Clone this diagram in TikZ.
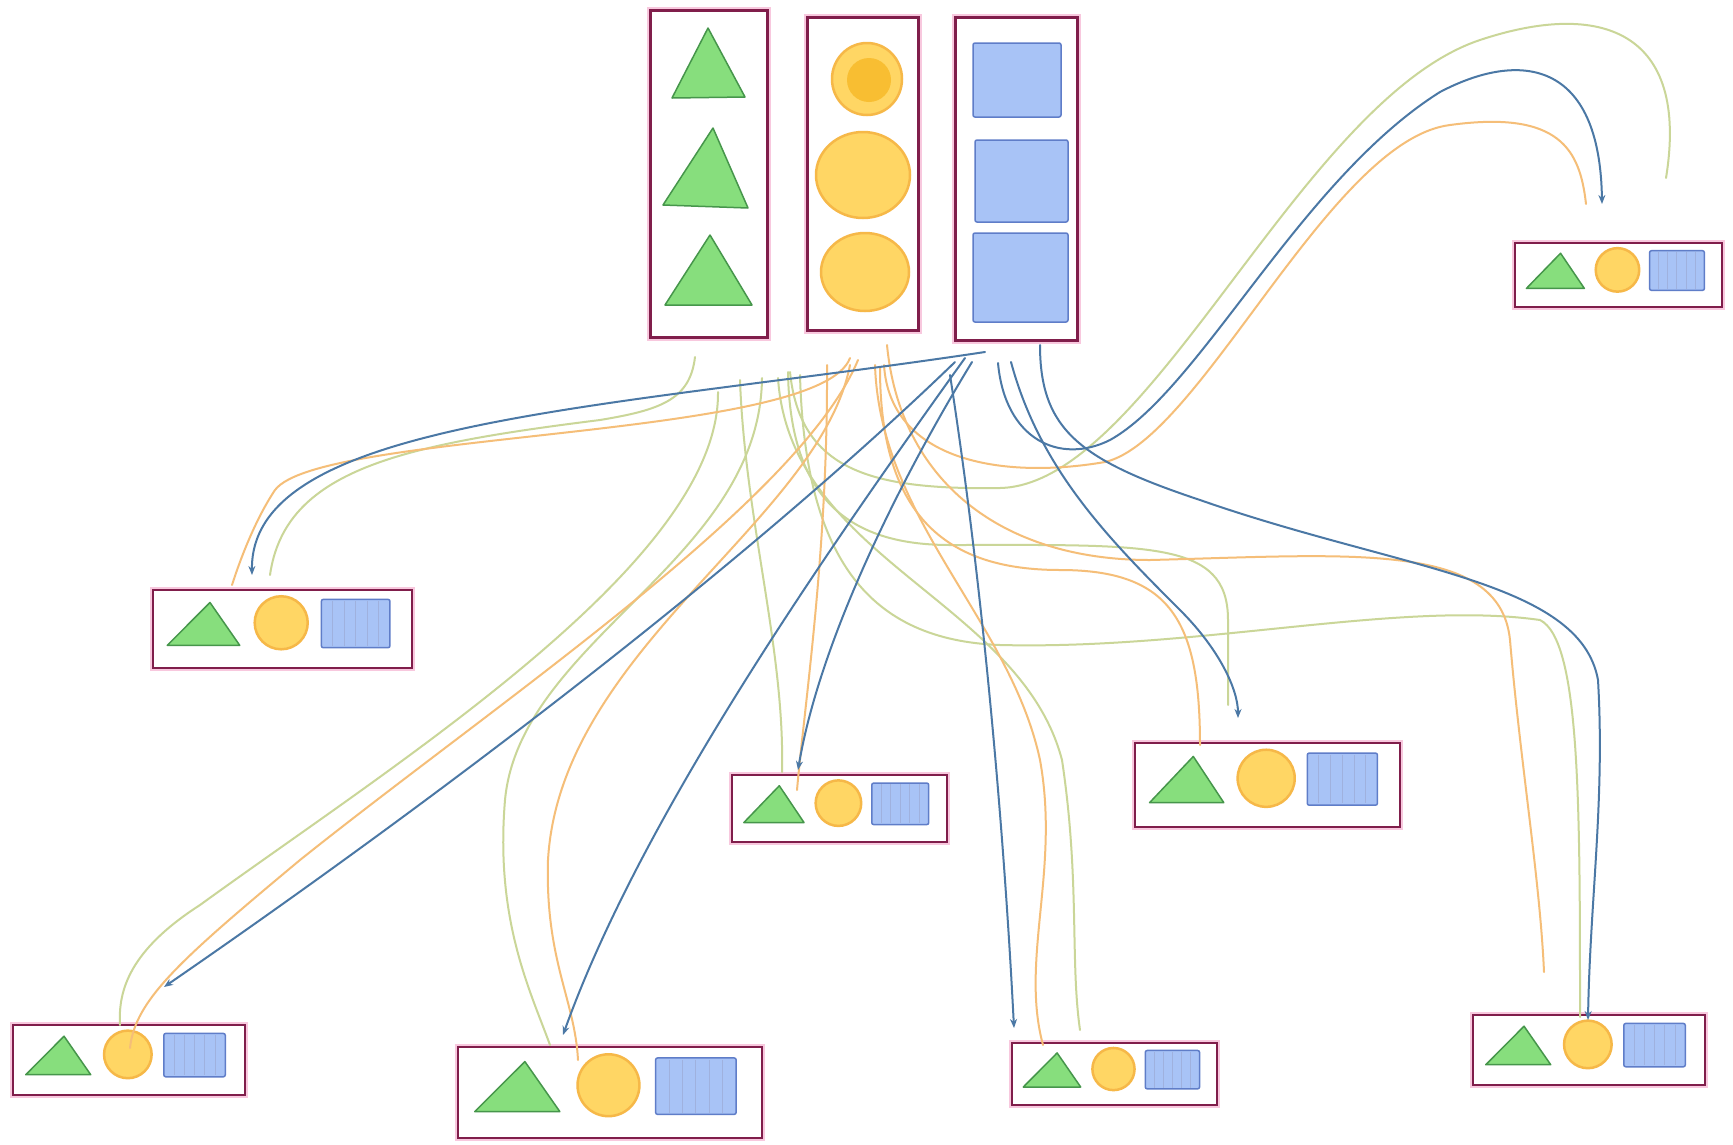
\documentclass[tikz,border=0pt]{standalone}
\usetikzlibrary{arrows.meta,calc}
\definecolor{frame}{RGB}{128,30,75}
\definecolor{halo}{RGB}{248,200,222}
\definecolor{trifill}{RGB}{135,222,125}
\definecolor{triedge}{RGB}{70,150,75}
\definecolor{circfill}{RGB}{255,214,100}
\definecolor{circedge}{RGB}{246,184,72}
\definecolor{circdeep}{RGB}{248,190,50}
\definecolor{sqfill}{RGB}{168,195,246}
\definecolor{sqedge}{RGB}{95,125,200}
\definecolor{bl}{RGB}{75,120,165}
\definecolor{orl}{RGB}{245,190,120}
\definecolor{grl}{RGB}{202,214,152}
\tikzset{
  frm/.style={draw=frame, line width=2.3pt, preaction={draw=halo, line width=5.5pt}, fill=white, inner sep=0pt, outer sep=0pt},
  bigfrm/.style={draw=frame, line width=3pt, preaction={draw=halo, line width=7pt}, fill=white, inner sep=0pt, outer sep=0pt},
  trist/.style={fill=trifill, draw=triedge, line width=1.5pt, line join=round},
  circst/.style={fill=circfill, draw=circedge, line width=2.5pt},
  sqst/.style={fill=sqfill, draw=sqedge, line width=1.5pt, rounded corners=2pt},
  stripe/.style={draw=sqedge!60, line width=1pt},
  bw/.style={draw=bl, line width=2pt, line cap=round, -{Stealth[length=9pt,width=7pt]}},
  ow/.style={draw=orl, line width=2pt, line cap=round},
  gw/.style={draw=grl, line width=2pt, line cap=round},
}
\newcommand{\minibox}[5]{%
  \pgfmathsetmacro\mbw{#4-#2}%
  \pgfmathsetmacro\mbh{#5-#3}%
  \node[frm, minimum width=\mbw pt, minimum height=\mbh pt] (#1) at ({(#2+#4)/2},{(#3+#5)/2}) {};
  \filldraw[trist] ({#2+0.055*\mbw},{#3+0.71*\mbh}) -- ({#2+0.22*\mbw},{#3+0.16*\mbh}) -- ({#2+0.335*\mbw},{#3+0.71*\mbh}) -- cycle;
  \filldraw[circst] ({#2+0.495*\mbw},{#3+0.42*\mbh}) circle[radius={0.34*\mbh}];
  \filldraw[sqst] ({#2+0.65*\mbw},{#3+0.12*\mbh}) rectangle ({#2+0.915*\mbw},{#3+0.74*\mbh});
  \foreach \k in {1,...,5}{
    \draw[stripe] ({#2+0.65*\mbw+\k*0.265*\mbw/6},{#3+0.14*\mbh}) -- ({#2+0.65*\mbw+\k*0.265*\mbw/6},{#3+0.72*\mbh});
  }
}
\begin{document}
\begin{tikzpicture}[x=1pt,y=-1pt]
\path[use as bounding box, fill=white] (0,0) rectangle (1733,1144);

% big columns
\node[bigfrm, minimum width=117pt, minimum height=327pt] (G) at (708.5,173.5) {};
\node[bigfrm, minimum width=111pt, minimum height=313pt] (Y) at (862.5,173.5) {};
\node[bigfrm, minimum width=122pt, minimum height=323pt] (B) at (1016,178.5) {};

\filldraw[trist] (672,98) -- (708,28) -- (745,97) -- cycle;
\filldraw[trist] (663,205) -- (713,128) -- (748,208) -- cycle;
\filldraw[trist] (665,305) -- (710,235) -- (752,305) -- cycle;

\filldraw[circst] (867,79) ellipse[x radius=35, y radius=36];
\fill[circdeep] (869,80) ellipse[x radius=22, y radius=22];
\filldraw[circst] (863,175) ellipse[x radius=47, y radius=43];
\filldraw[circst] (865,272) ellipse[x radius=44, y radius=39];

\filldraw[sqst] (973,43) rectangle (1061,117);
\filldraw[sqst] (975,140) rectangle (1068,222);
\filldraw[sqst] (973,233) rectangle (1068,322);

% small boxes
\minibox{TR}{1515}{243}{1722}{307}
\minibox{LM}{153}{590}{412}{668}
\minibox{CM}{732}{775}{947}{842}
\minibox{RM}{1135}{743}{1400}{827}
\minibox{BL}{13}{1025}{245}{1095}
\minibox{BCL}{458}{1047}{762}{1138}
\minibox{BCR}{1012}{1043}{1217}{1105}
\minibox{BR}{1473}{1015}{1705}{1085}

% connector end points
\coordinate (g1s) at (790,372); \coordinate (g1e) at (1666,178);
\coordinate (g2s) at (695,357); \coordinate (g2e) at (270,575);
\coordinate (g3s) at (740,380); \coordinate (g3e) at (782,772);
\coordinate (g4s) at (718,392); \coordinate (g4e) at (120,1025);
\coordinate (g5s) at (762,378); \coordinate (g5e) at (550,1045);
\coordinate (g6s) at (778,378); \coordinate (g6e) at (1080,1030);
\coordinate (g7s) at (788,372); \coordinate (g7e) at (1228,705);
\coordinate (g8s) at (800,375); \coordinate (g8e) at (1580,1017);

\coordinate (o1s) at (884,365); \coordinate (o1e) at (1586,204);
\coordinate (o2s) at (850,358); \coordinate (o2e) at (232,585);
\coordinate (o3s) at (827,365); \coordinate (o3e) at (797,790);
\coordinate (o4s) at (858,360); \coordinate (o4e) at (130,1048);
\coordinate (o5s) at (850,365); \coordinate (o5e) at (578,1060);
\coordinate (o6s) at (875,365); \coordinate (o6e) at (1043,1045);
\coordinate (o7s) at (880,368); \coordinate (o7e) at (1200,745);
\coordinate (o8s) at (887,345); \coordinate (o8e) at (1544,972);

\coordinate (b1s) at (998,363); \coordinate (b1e) at (1602,204);
\coordinate (b2s) at (985,352); \coordinate (b2e) at (252,575);
\coordinate (b3s) at (972,362); \coordinate (b3e) at (798,770);
\coordinate (b4s) at (955,362); \coordinate (b4e) at (164,987);
\coordinate (b5s) at (965,358); \coordinate (b5e) at (563,1035);
\coordinate (b6s) at (950,375); \coordinate (b6e) at (1014,1028);
\coordinate (b7s) at (1011,362); \coordinate (b7e) at (1238,718);
\coordinate (b8s) at (1040,345); \coordinate (b8e) at (1588,1020);

% green connectors
\draw[gw] (g1s) .. controls (800,470) and (870,490) .. (1000,488) .. controls (1150,485) and (1300,100) .. (1480,40) .. controls (1600,0) and (1690,30) .. (g1e);
\draw[gw] (g2s) .. controls (690,400) and (660,410) .. (600,420) .. controls (400,445) and (285,470) .. (g2e);
\draw[gw] (g3s) .. controls (745,520) and (785,650) .. (g3e);
\draw[gw] (g4s) .. controls (720,560) and (400,760) .. (200,905) .. controls (130,950) and (118,990) .. (g4e);
\draw[gw] (g5s) .. controls (760,560) and (520,640) .. (505,800) .. controls (495,920) and (530,990) .. (g5e);
\draw[gw] (g6s) .. controls (790,560) and (1020,600) .. (1062,760) .. controls (1080,880) and (1070,960) .. (g6e);
\draw[gw] (g7s) .. controls (790,500) and (850,545) .. (950,545) .. controls (1150,545) and (1228,540) .. (1228,620) -- (g7e);
\draw[gw] (g8s) .. controls (805,560) and (870,640) .. (1000,645) .. controls (1200,650) and (1400,600) .. (1540,620) .. controls (1580,640) and (1580,800) .. (g8e);

% orange connectors
\draw[ow] (o1s) .. controls (890,460) and (1000,480) .. (1105,462) .. controls (1200,440) and (1330,140) .. (1450,125) .. controls (1560,110) and (1580,150) .. (o1e);
\draw[ow] (o2s) .. controls (820,440) and (320,430) .. (275,490) .. controls (255,520) and (240,560) .. (o2e);
\draw[ow] (o3s) .. controls (828,550) and (805,700) .. (o3e);
\draw[ow] (o4s) .. controls (800,500) and (500,700) .. (300,860) .. controls (180,960) and (135,1000) .. (o4e);
\draw[ow] (o5s) .. controls (820,520) and (560,650) .. (548,860) .. controls (545,960) and (575,1000) .. (o5e);
\draw[ow] (o6s) .. controls (880,520) and (1010,620) .. (1040,760) .. controls (1060,870) and (1020,960) .. (o6e);
\draw[ow] (o7s) .. controls (880,520) and (950,570) .. (1060,570) .. controls (1170,570) and (1200,620) .. (o7e);
\draw[ow] (o8s) .. controls (900,480) and (1000,560) .. (1150,560) .. controls (1350,555) and (1500,540) .. (1510,640) .. controls (1520,760) and (1540,880) .. (o8e);

% blue connectors
\draw[bw] (b1s) .. controls (1005,440) and (1060,465) .. (1110,440) .. controls (1200,390) and (1300,180) .. (1440,92) .. controls (1520,50) and (1600,60) .. (b1e);
\draw[bw] (b2s) .. controls (600,410) and (250,420) .. (b2e);
\draw[bw] (b3s) .. controls (900,480) and (820,640) .. (b3e);
\draw[bw] (b4s) .. controls (750,560) and (450,790) .. (b4e);
\draw[bw] (b5s) .. controls (820,560) and (640,820) .. (b5e);
\draw[bw] (b6s) .. controls (985,600) and (1005,850) .. (b6e);
\draw[bw] (b7s) .. controls (1040,470) and (1110,540) .. (1180,610) .. controls (1220,650) and (1238,690) .. (b7e);
\draw[bw] (b8s) .. controls (1040,430) and (1080,460) .. (1200,500) .. controls (1400,570) and (1580,580) .. (1598,680) .. controls (1605,800) and (1590,900) .. (b8e);
\end{tikzpicture}
\end{document}
